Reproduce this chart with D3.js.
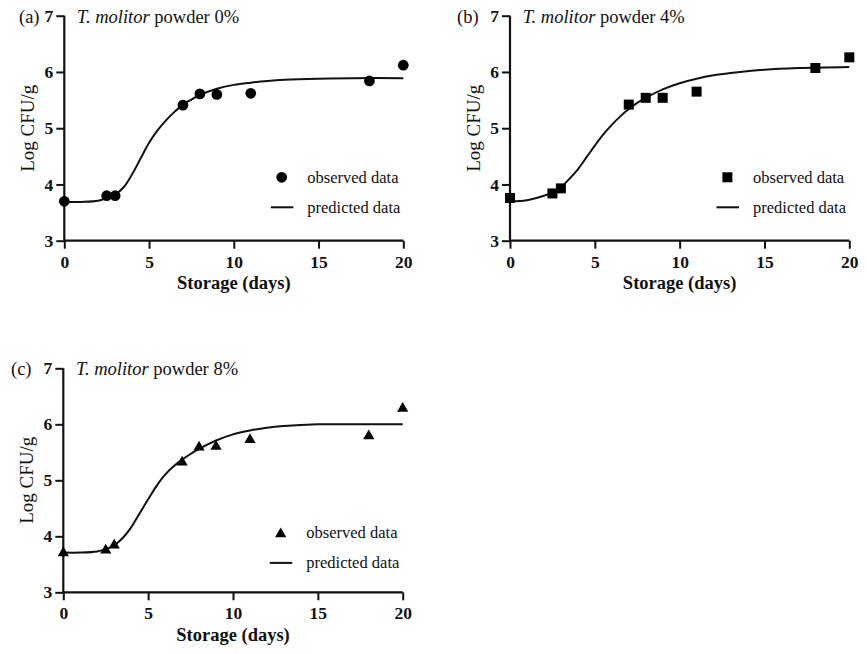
<!DOCTYPE html>
<html><head><meta charset="utf-8">
<script src="https://cdn.jsdelivr.net/npm/d3@7"></script>
<style>
body{margin:0;background:#fff;}
svg{display:block;}
text{font-family:"Liberation Serif","Times New Roman",serif;fill:#111;}
</style></head>
<body>
<svg id="chart" width="867" height="654"></svg>
<script>
// ---- data ----
const days = [0, 2.5, 3, 7, 8, 9, 11, 18, 20];
const obsA = [3.70, 3.80, 3.80, 5.41, 5.61, 5.60, 5.62, 5.84, 6.12];
const obsB = [3.76, 3.84, 3.93, 5.42, 5.54, 5.54, 5.65, 6.07, 6.26];
const obsC = [3.72, 3.77, 3.86, 5.34, 5.61, 5.62, 5.74, 5.81, 6.30];

const predDays = [0,1,2,2.5,3,3.5,4,4.5,5,5.5,6,6.5,7,7.5,8,9,10,11,12,13,15,17,20];
const predA = [3.69,3.69,3.71,3.76,3.82,3.95,4.18,4.46,4.74,4.96,5.14,5.29,5.42,5.51,5.59,5.70,5.77,5.81,5.84,5.86,5.88,5.89,5.89];
const predB = [3.70,3.72,3.80,3.86,3.95,4.10,4.27,4.48,4.69,4.89,5.06,5.21,5.34,5.45,5.54,5.69,5.80,5.88,5.94,5.98,6.04,6.07,6.09];
const predC = [3.71,3.71,3.73,3.77,3.84,3.97,4.16,4.41,4.66,4.90,5.10,5.25,5.37,5.47,5.56,5.71,5.82,5.89,5.94,5.97,6.00,6.00,6.00];

const xTicks = [0, 5, 10, 15, 20];
const yTicks = [3, 4, 5, 6, 7];
const panelLetters = ["(a)", "(b)", "(c)"];
const panelPercents = ["0%", "4%", "8%"];
const markerTypes = ["circle", "square", "triangle"];
const legendLabels = ["observed data", "predicted data"];
const xTitle = "Storage (days)";
const yTitle = "Log CFU/g";

// ---- layout ----
const panels = [
  {x0: 64.3, x1: 403.3, y0: 15.7, y1: 240.7, letterX: 19, obs: obsA, pred: predA, legY: 0},
  {x0: 510, x1: 849.3, y0: 15.7, y1: 240.7, letterX: 457, obs: obsB, pred: predB, legY: 0},
  {x0: 63.3, x1: 402.7, y0: 368.3, y1: 592.3, letterX: 11, obs: obsC, pred: predC, legY: 3}
];

const svg = d3.select("#chart");

panels.forEach((p, i) => {
  const x = d3.scaleLinear().domain([0, 20]).range([p.x0, p.x1]);
  const y = d3.scaleLinear().domain([3, 7]).range([p.y1, p.y0]);
  const g = svg.append("g");

  // axes
  const xAxis = g.append("g").attr("transform", `translate(0,${p.y1})`)
    .call(d3.axisBottom(x).tickValues(xTicks).tickSize(8).tickPadding(4).tickFormat(d3.format("d")));
  const yAxis = g.append("g").attr("transform", `translate(${p.x0},0)`)
    .call(d3.axisLeft(y).tickValues(yTicks).tickSize(8).tickPadding(3).tickFormat(d3.format("d")));
  [xAxis, yAxis].forEach(a => {
    a.select(".domain").attr("stroke", "#111").attr("stroke-width", 2.2)
      .attr("d", a === xAxis ? `M${p.x0},0H${p.x1}` : `M0,${p.y1}V${p.y0}`);
    a.selectAll(".tick line").attr("stroke", "#111").attr("stroke-width", 2);
    a.selectAll(".tick text").attr("font-family", "Liberation Serif").attr("font-weight", "bold")
      .attr("font-size", 17.5).attr("fill", "#111");
  });
  xAxis.selectAll(".tick text").attr("dy", "0.85em");

  // axis titles
  g.append("text").attr("x", (p.x0 + p.x1) / 2).attr("y", p.y1 + 48.5)
    .attr("text-anchor", "middle").attr("font-weight", "bold").attr("font-size", 18.5).text(xTitle);
  g.append("text").attr("transform", `translate(${p.x0 - 30},${(p.y0 + p.y1) / 2}) rotate(-90)`)
    .attr("text-anchor", "middle").attr("font-size", 19).attr("fill", "#222").text(yTitle);

  // panel letter + title
  g.append("text").attr("x", p.letterX).attr("y", p.y0 + 7).attr("font-size", 18.5).text(panelLetters[i]);
  const t = g.append("text").attr("x", p.x0 + 12.7).attr("y", p.y0 + 7).attr("font-size", 18.5);
  t.append("tspan").attr("font-style", "italic").text("T. molitor");
  t.append("tspan").text(" powder " + panelPercents[i]);

  // predicted curve
  const line = d3.line().x((d, j) => x(predDays[j])).y(d => y(d)).curve(d3.curveCatmullRom.alpha(0.5));
  g.append("path").datum(p.pred).attr("d", line).attr("fill", "none")
    .attr("stroke", "#111").attr("stroke-width", 2);

  // markers
  const mk = markerTypes[i];
  const sym = mk === "circle" ? d3.symbolCircle : mk === "square" ? d3.symbolSquare : d3.symbolTriangle;
  const size = mk === "circle" ? 90 : mk === "square" ? 100 : 55;
  const symGen = d3.symbol().type(sym).size(size);
  g.selectAll("path.pt").data(p.obs).join("path").attr("class", "pt")
    .attr("transform", (d, j) => `translate(${x(days[j])},${y(d) + (mk === "triangle" ? 1 : 0)})`)
    .attr("d", symGen).attr("fill", "#000");

  // legend
  const lx = p.x0 + 217.4, ly1 = p.y0 + 161.6 + p.legY, ly2 = p.y0 + 191.6 + p.legY;
  g.append("path").attr("transform", `translate(${lx},${ly1 + (mk === "triangle" ? 1 : 0)})`)
    .attr("d", symGen).attr("fill", "#000");
  g.append("line").attr("x1", p.x0 + 206.5).attr("x2", p.x0 + 229).attr("y1", ly2).attr("y2", ly2)
    .attr("stroke", "#111").attr("stroke-width", 2);
  g.append("text").attr("x", p.x0 + 243).attr("y", ly1).attr("dy", "0.32em").attr("font-size", 16.5).text(legendLabels[0]);
  g.append("text").attr("x", p.x0 + 243).attr("y", ly2).attr("dy", "0.32em").attr("font-size", 16.5).text(legendLabels[1]);
});
</script>
</body></html>
